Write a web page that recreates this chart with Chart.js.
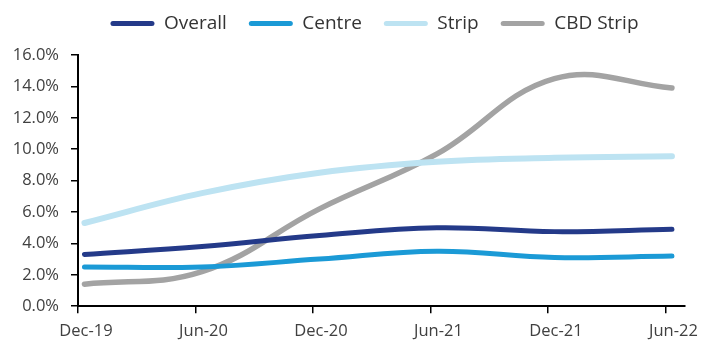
<!DOCTYPE html>
<html>
<head>
<meta charset="utf-8">
<script src="https://cdn.jsdelivr.net/npm/chart.js@4"></script>
<style>
html,body{margin:0;padding:0;background:#fff;}
#wrap{width:711px;height:350px;position:relative;}
</style>
</head>
<body>
<div id="wrap"><canvas id="c" width="711" height="350"></canvas></div>
<script>
const categories = ["Dec-19", "Jun-20", "Dec-20", "Jun-21", "Dec-21", "Jun-22"];
const overall = [3.3, 3.8, 4.5, 5.0, 4.75, 4.9];
const centre = [2.5, 2.5, 3.0, 3.5, 3.1, 3.2];
const strip = [5.3, 7.2, 8.5, 9.2, 9.45, 9.55];
const cbdStrip = [1.4, 2.2, 6.2, 9.7, 14.5, 13.9];
const yTicks = [0, 2, 4, 6, 8, 10, 12, 14, 16];

const dataShift = 0.055; // data sit slightly right of the tick marks
const toPoints = arr => arr.map((v, i) => ({x: i + dataShift, y: v}));

const colors = {
  overall: '#243a89',
  centre: '#1b9ad6',
  strip: '#bde3f2',
  cbd: '#a3a3a3'
};

function ds(label, arr, color, width) {
  return {
    label: label,
    data: toPoints(arr),
    borderColor: color,
    backgroundColor: color,
    borderWidth: width,
    pointRadius: 0,
    pointHoverRadius: 0,
    tension: 0.4,
    borderCapStyle: 'round',
    borderJoinStyle: 'round',
    fill: false
  };
}

const legendTweak = {
  id: 'legendTweak',
  beforeInit(chart) {
    const origFit = chart.legend.fit;
    chart.legend.fit = function () {
      origFit.call(this);
      this.height += 12;
    };
  },
  afterLayout(chart) {
    // centre the legend over the plot region
    const lg = chart.legend;
    lg.left = 64;
    lg.right = chart.chartArea.right;
    lg.width = lg.right - lg.left;
  }
};

new Chart(document.getElementById('c'), {
  type: 'line',
  data: {
    datasets: [
      ds('Overall', overall, colors.overall, 5),
      ds('Centre', centre, colors.centre, 5),
      ds('Strip', strip, colors.strip, 6),
      ds('CBD Strip', cbdStrip, colors.cbd, 5.5)
    ]
  },
  plugins: [legendTweak],
  options: {
    responsive: false,
    animation: false,
    layout: {padding: {top: -8, left: 4, right: 26, bottom: 1}},
    plugins: {
      tooltip: {enabled: false},
      legend: {
        display: true,
        position: 'top',
        align: 'center',
        labels: {
          boxWidth: 44,
          boxHeight: 5,
          padding: 22,
          useBorderRadius: true,
          borderRadius: 2.5,
          color: '#333',
          font: {family: 'Open Sans', size: 19},
          generateLabels: chart => chart.data.datasets.map((d, i) => ({
            text: d.label,
            fillStyle: d.borderColor,
            strokeStyle: d.borderColor,
            lineWidth: 0,
            borderRadius: 2.5,
            datasetIndex: i,
            fontColor: '#333'
          }))
        }
      }
    },
    scales: {
      x: {
        type: 'linear',
        min: 0,
        max: 5.166,
        afterBuildTicks: s => { s.ticks = categories.map((c, i) => ({value: i})); },
        ticks: {
          stepSize: 1,
          autoSkip: false,
          maxRotation: 0,
          labelOffset: 8,
          padding: 8,
          color: '#404040',
          font: {family: 'Open Sans', size: 16.5},
          callback: v => categories[v] !== undefined ? categories[v] : ''
        },
        grid: {display: true, drawOnChartArea: false, drawTicks: true, tickLength: 7, color: '#000', lineWidth: 1.5},
        border: {display: true, color: '#000', width: 2}
      },
      y: {
        type: 'linear',
        min: 0,
        max: 16,
        afterBuildTicks: s => { s.ticks = yTicks.map(v => ({value: v})); },
        afterFit: s => { s.width = 74; },
        ticks: {
          stepSize: 2,
          padding: 12,
          color: '#404040',
          font: {family: 'Open Sans', size: 16.5},
          callback: v => v.toFixed(1) + '%'
        },
        grid: {display: true, drawOnChartArea: false, drawTicks: true, tickLength: 7, color: '#000', lineWidth: 1.5},
        border: {display: true, color: '#000', width: 2}
      }
    }
  }
});
</script>
</body>
</html>
